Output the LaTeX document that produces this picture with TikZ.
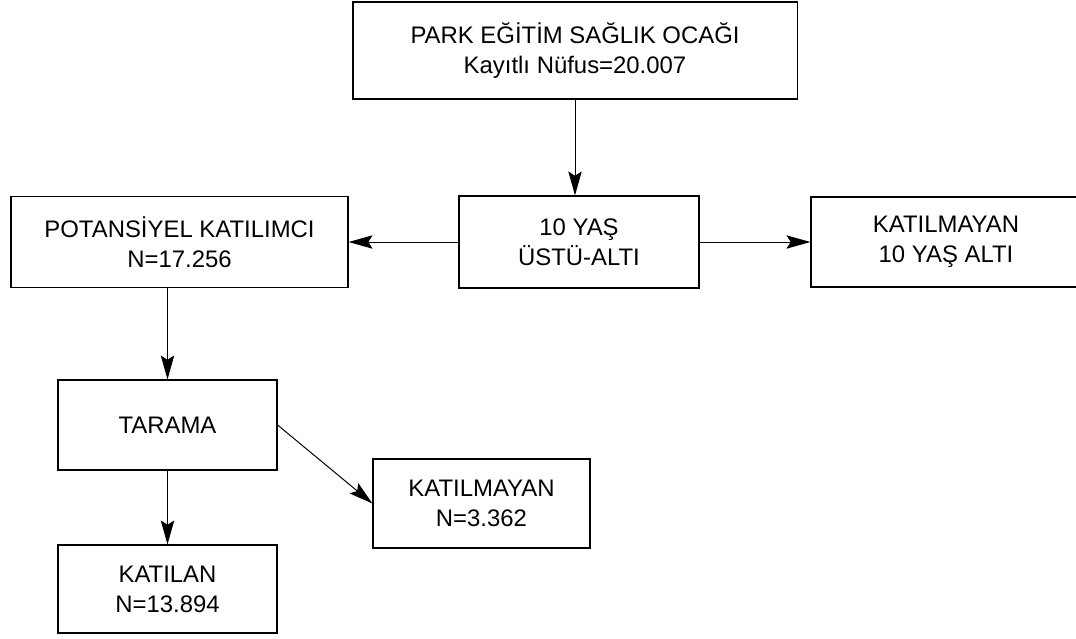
\documentclass[tikz,border=0pt]{standalone}
\usepackage{fontspec}
\setmainfont{Liberation Sans}
\usetikzlibrary{arrows.meta}
\tikzset{
  kutu/.style 2 args={draw, line width=0.8pt, align=center, inner sep=0pt,
    minimum width=#1, minimum height=#2, font=\fontsize{17}{21.5}\selectfont},
  ok/.style={line width=0.7pt, -{Stealth[length=17pt,width=9.5pt,inset=3pt]}}
}

\begin{document}
\begin{tikzpicture}[x=0.025cm,y=-0.025cm]
\useasboundingbox (0,0) rectangle (1076,638);
% kutular
\node[kutu={11.1cm}{2.425cm}] (ocak) at (575,50.5) {PARK EĞİTİM SAĞLIK OCAĞI\\Kayıtlı Nüfus=20.007};
\node[kutu={6cm}{2.3cm}] (yas) at (579,242) {10 YAŞ\\ÜSTÜ-ALTI};
\node[kutu={8.425cm}{2.275cm}] (potansiyel) at (179.5,242) {POTANSİYEL KATILIMCI\\N=17.256};
\node[kutu={6.75cm}{2.25cm}] (altı) at (946,242) {KATILMAYAN\\10 YAŞ ALTI};
\node[kutu={5.475cm}{2.25cm}] (tarama) at (167.5,425) {TARAMA};
\node[kutu={5.425cm}{2.225cm}] (katilmayan) at (481.5,503.5) {KATILMAYAN\\N=3.362};
\node[kutu={5.475cm}{2.2cm}] (katilan) at (167.5,589) {KATILAN\\N=13.894};
% oklar
\draw[ok] (ocak.south) -- (ocak.south |- yas.north);
\draw[ok] (yas.west) -- (potansiyel.east);
\draw[ok] (yas.east) -- (altı.west);
\draw[ok] (tarama.north |- potansiyel.south) -- (tarama.north);
\draw[ok] (tarama.south) -- (katilan.north);
\draw[ok] (tarama.east) -- (katilmayan.west);
\end{tikzpicture}
\end{document}
